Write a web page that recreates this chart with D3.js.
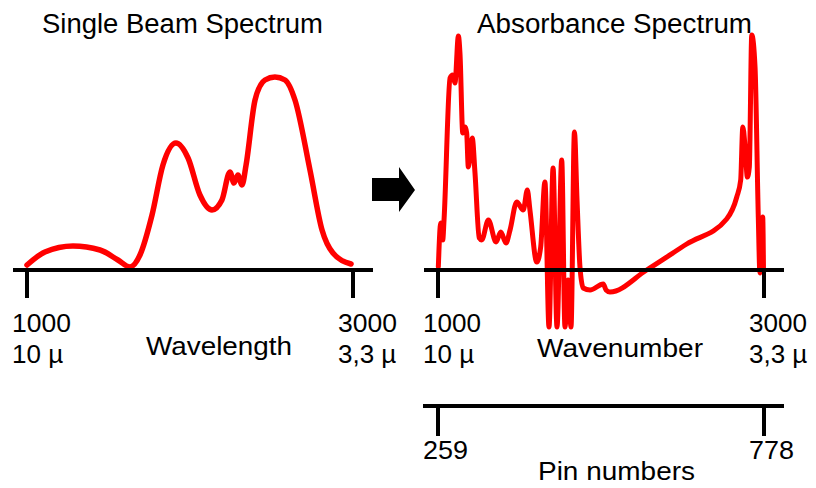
<!DOCTYPE html>
<html>
<head>
<meta charset="utf-8">
<script src="https://cdn.jsdelivr.net/npm/d3@7"></script>
<style>
  html, body { margin: 0; padding: 0; background: #fff; }
  svg { display: block; }
  text { font-family: "Liberation Sans", Arial, sans-serif; fill: #000; }
</style>
</head>
<body>
<svg id="chart" width="816" height="488"></svg>
<script>
// ---- Data ----
// Single beam spectrum: wavelength position (1000..3000 scale) and intensity (arbitrary units)
const singleBeamX = [1000, 1110, 1282, 1448, 1558, 1632, 1693, 1767, 1834, 1914, 1988, 2061, 2135, 2196, 2245, 2270, 2294, 2319, 2344, 2399, 2460, 2521, 2583, 2644, 2736, 2810, 2877, 2988];
const singleBeamY = [2.5, 9, 12, 10, 5, 1.5, 7.5, 27.5, 52.5, 63.5, 56, 37.5, 30, 35, 49, 43.5, 47.5, 42.5, 52.5, 85, 95, 96.5, 95, 85, 50, 20, 8.5, 3];

// Absorbance spectrum: wavenumber and absorbance (arbitrary units)
const absorbX = [1002, 1017, 1029, 1037, 1074, 1090, 1104, 1125, 1135, 1152, 1167, 1176, 1186, 1210, 1227, 1253, 1268, 1309, 1356, 1385, 1417, 1442, 1483, 1523, 1548, 1564, 1606, 1630, 1656, 1681, 1706, 1730, 1759, 1779, 1798, 1816, 1837, 1853, 1871, 1891, 1933, 2014, 2031, 2055, 2280, 2526, 2771, 2833, 2857, 2870, 2884, 2898, 2910, 2925, 2945, 2965, 2975, 2992, 2997];
const absorbY = [1.5, 23.5, 15, 25, 96, 97.5, 93.5, 117, 108, 68.5, 71.5, 68.5, 51.5, 66, 48.5, 16, 15, 25, 14, 19, 13.5, 20, 34, 30, 40, 30, 4, 11.5, 44, -28.5, 51, -28.5, 55, -28.5, -5, -28.5, 69, 35, 1.5, -9, -10, -7, -10, -11, 0, 13, 25.5, 36.5, 45, 71.5, 61.5, 46.5, 51.5, 117.5, 101.5, 26.5, -1.5, 26.5, -1];

// Axis tick values and labels
const waveTicks = [1000, 3000];
const waveLabels = [["1000", "10 µ"], ["3000", "3,3 µ"]];
const pinTicks = [259, 778];
const titles = ["Single Beam Spectrum", "Absorbance Spectrum"];
const axisTitles = ["Wavelength", "Wavenumber", "Pin numbers"];

// ---- Drawing ----
const svg = d3.select("#chart");
const RED = "#ff0000";

const xLeft = d3.scaleLinear().domain([1000, 3000]).range([27, 353]);
const xRight = d3.scaleLinear().domain([1000, 3000]).range([438, 764]);
const xPin = d3.scaleLinear().domain(pinTicks).range([438, 764]);
const y = d3.scaleLinear().domain([0, 100]).range([270, 70]);

function drawAxisLine(x0, x1, yPos, ticks, scale, tickLen) {
  const g = svg.append("g");
  g.append("line").attr("x1", x0).attr("x2", x1).attr("y1", yPos).attr("y2", yPos)
    .attr("stroke", "#000").attr("stroke-width", 4);
  g.selectAll("line.tick").data(ticks).join("line").attr("class", "tick")
    .attr("x1", d => scale(d)).attr("x2", d => scale(d))
    .attr("y1", yPos).attr("y2", yPos + tickLen)
    .attr("stroke", "#000").attr("stroke-width", 4);
  return g;
}

// Curves
const lineL = d3.line().x((d, i) => xLeft(singleBeamX[i])).y(d => y(d)).curve(d3.curveMonotoneX);
const lineR = d3.line().x((d, i) => xRight(absorbX[i])).y(d => y(d)).curve(d3.curveMonotoneX);

svg.append("path").attr("d", lineL(singleBeamY)).attr("fill", "none")
  .attr("stroke", RED).attr("stroke-width", 5.5).attr("stroke-linejoin", "round").attr("stroke-linecap", "round");
svg.append("path").attr("d", lineR(absorbY)).attr("fill", "none")
  .attr("stroke", RED).attr("stroke-width", 5).attr("stroke-linejoin", "round").attr("stroke-linecap", "round");

// Axes (drawn after curves so the black baseline is on top)
drawAxisLine(13, 373, 270, waveTicks, xLeft, 28);
drawAxisLine(424, 784, 270, waveTicks, xRight, 28);
drawAxisLine(423, 784, 406, pinTicks, xPin, 30);

// Arrow
svg.append("path")
  .attr("d", "M372,178 L399,178 L399,167 L415,190 L399,212 L399,201 L372,201 Z")
  .attr("fill", "#000");

function txt(s, x, yPos, width, fs) {
  const t = svg.append("text").attr("x", x).attr("y", yPos).attr("font-size", fs || 26).text(s);
  if (width) t.attr("textLength", width).attr("lengthAdjust", "spacingAndGlyphs");
  return t;
}

// Titles
txt(titles[0], 42, 33, 281, 27);
txt(titles[1], 477, 33, 275, 27);

// Wavelength/wavenumber tick labels
waveTicks.forEach((v, i) => {
  txt(waveLabels[i][0], xLeft(v) - 15, 332, 59);
  txt(waveLabels[i][1], xLeft(v) - 15, 363);
  txt(waveLabels[i][0], xRight(v) - 15, 332, 58);
  txt(waveLabels[i][1], xRight(v) - 15, 363);
});

txt(axisTitles[0], 146, 355, 146);
txt(axisTitles[1], 537, 357, 166);

// Pin numbers
pinTicks.forEach(v => txt(String(v), xPin(v) - 15, 459, 45));
txt(axisTitles[2], 538, 480, 157);
</script>
</body>
</html>
